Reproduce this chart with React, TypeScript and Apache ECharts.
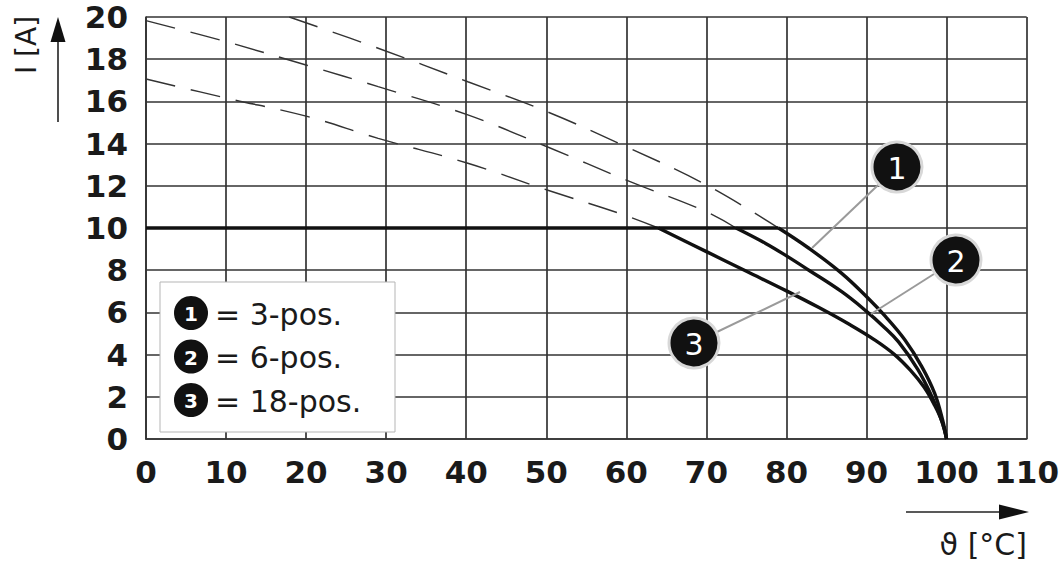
import React, { useEffect, useRef } from "react";
import * as echarts from "echarts";

// Temperature ticks and current ticks
const xTicks = [0, 10, 20, 30, 40, 50, 60, 70, 80, 90, 100, 110];
const yTicks = [0, 2, 4, 6, 8, 10, 12, 14, 16, 18, 20];

// Rated current limit (solid horizontal part)
const limitLine = [
  [0, 10],
  [79, 10],
];

// Dashed derating curves above 10 A
const curve1Dashed = [
  [17.9, 20], [29, 18.52], [40.2, 16.93], [50.1, 15.51], [60, 13.85], [70, 12.04], [79, 10],
];
const curve2Dashed = [
  [0, 19.83], [10, 18.83], [20.2, 17.7], [29, 16.7], [40.2, 15.36], [50.1, 13.85], [60, 12.27], [70, 10.77], [73.7, 10],
];
const curve3Dashed = [
  [0, 17.06], [10, 16.16], [20, 15.3], [29, 14.25], [40.2, 13.07], [50.1, 11.8], [59.7, 10.62], [64, 10],
];

// Solid derating curves below 10 A
const curve1Solid = [
  [79, 10], [82.8, 9.04], [86.9, 7.85], [90.2, 6.67], [92.3, 5.83], [94.8, 4.69], [96.9, 3.43], [98.5, 2.17], [99.5, 0.9], [100, 0],
];
const curve2Solid = [
  [73.7, 10], [77.4, 9.27], [80, 8.68], [82.8, 8.0], [86.9, 6.98], [90, 6.05], [92, 5.37], [94, 4.6], [96.4, 3.3], [98.3, 1.9], [99.5, 0.75], [100, 0],
];
const curve3Solid = [
  [64, 10], [70, 8.88], [75, 7.95], [80, 7.02], [84, 6.24], [88, 5.4], [91, 4.7], [93.5, 4.0], [95.5, 3.25], [97.2, 2.45], [98.5, 1.6], [99.4, 0.85], [100, 0],
];

const legendLabels = ["= 3-pos.", "= 6-pos.", "= 18-pos."];
const legendNumbers = ["1", "2", "3"];
const yTitle = "I [A]";
const xTitle = "ϑ [°C]";

const FONT = '"DejaVu Sans", "Liberation Sans", Arial, sans-serif';

export default function App() {
  const ref = useRef<HTMLDivElement>(null);

  useEffect(() => {
    if (!ref.current) return;
    const chart = echarts.init(ref.current, null, { renderer: "svg" });

    const gridStyle = { color: "#333", width: 1.7 };
    const dashed = (data: number[][]) => ({
      type: "line",
      data,
      symbol: "none",
      smooth: 0.4,
      lineStyle: { color: "#333", width: 1.4, type: [30, 16] },
      z: 3,
    });
    const solid = (data: number[][]) => ({
      type: "line",
      data,
      symbol: "none",
      smooth: 0.4,
      lineStyle: { color: "#111", width: 3.4 },
      z: 4,
    });

    const legendCircles: any[] = [];
    legendNumbers.forEach((n, i) => {
      const cy = 313 + i * 43.5;
      legendCircles.push({
        type: "circle",
        z: 102,
        shape: { cx: 191, cy, r: 17 },
        style: { fill: "#111" },
      });
      legendCircles.push({
        type: "text",
        z: 103,
        x: 191,
        y: cy + 1,
        style: { text: n, fill: "#fff", font: `bold 20px ${FONT}`, align: "center", verticalAlign: "middle" },
      });
      legendCircles.push({
        type: "text",
        z: 103,
        x: 215,
        y: cy + 1,
        style: { text: legendLabels[i], fill: "#1a1a1a", font: `30px ${FONT}`, align: "left", verticalAlign: "middle" },
      });
    });

    const callouts = [
      { n: "1", cx: 897, cy: 167, x2: 812, y2: 248 },
      { n: "2", cx: 956, cy: 260, x2: 871, y2: 314 },
      { n: "3", cx: 694, cy: 343, x2: 800, y2: 292 },
    ];
    const calloutEls: any[] = [];
    callouts.forEach((c) => {
      calloutEls.push({
        type: "line",
        z: 100,
        shape: { x1: c.cx, y1: c.cy, x2: c.x2, y2: c.y2 },
        style: { stroke: "#9a9a9a", lineWidth: 2 },
      });
      calloutEls.push({
        type: "circle",
        z: 101,
        shape: { cx: c.cx, cy: c.cy, r: 25 },
        style: { fill: "#111", stroke: "#d8d8d8", lineWidth: 3 },
      });
      calloutEls.push({
        type: "text",
        z: 102,
        x: c.cx,
        y: c.cy + 1,
        style: { text: c.n, fill: "#fff", font: `30px ${FONT}`, align: "center", verticalAlign: "middle" },
      });
    });

    chart.setOption({
      animation: false,
      backgroundColor: "#fff",
      grid: { left: 146, top: 17, right: 29, bottom: 125, containLabel: false },
      xAxis: {
        type: "value",
        min: xTicks[0],
        max: xTicks[xTicks.length - 1],
        interval: 10,
        axisLine: { show: true, lineStyle: gridStyle },
        axisTick: { show: false },
        splitLine: { show: true, lineStyle: gridStyle },
        axisLabel: {
          margin: 17,
          color: "#1a1a1a",
          fontFamily: FONT,
          fontWeight: "bold",
          fontSize: 31,
        },
      },
      yAxis: {
        type: "value",
        min: yTicks[0],
        max: yTicks[yTicks.length - 1],
        interval: 2,
        axisLine: { show: true, lineStyle: gridStyle },
        axisTick: { show: false },
        splitLine: { show: true, lineStyle: gridStyle },
        axisLabel: {
          margin: 18,
          color: "#1a1a1a",
          fontFamily: FONT,
          fontWeight: "bold",
          fontSize: 31,
        },
      },
      series: [
        dashed(curve1Dashed),
        dashed(curve2Dashed),
        dashed(curve3Dashed),
        {
          type: "line",
          data: limitLine,
          symbol: "none",
          lineStyle: { color: "#111", width: 3.4 },
          z: 4,
        },
        solid(curve1Solid),
        solid(curve2Solid),
        solid(curve3Solid),
      ],
      graphic: [
        // legend box
        {
          type: "rect",
          z: 100,
          shape: { x: 160, y: 282, width: 235, height: 150 },
          style: { fill: "#fff", stroke: "#b5b5b5", lineWidth: 1 },
        },
        ...legendCircles,
        ...calloutEls,
        // y-axis title and arrow
        {
          type: "text",
          z: 100,
          x: 26,
          y: 45,
          rotation: Math.PI / 2,
          style: { text: yTitle, fill: "#1a1a1a", font: `28px ${FONT}`, align: "center", verticalAlign: "middle" },
        },
        {
          type: "line",
          z: 100,
          shape: { x1: 58, y1: 122, x2: 58, y2: 38 },
          style: { stroke: "#222", lineWidth: 1.6 },
        },
        {
          type: "polygon",
          z: 100,
          shape: { points: [[58, 17], [50.5, 42], [65.5, 42]] },
          style: { fill: "#111" },
        },
        // x-axis title and arrow
        {
          type: "line",
          z: 100,
          shape: { x1: 906, y1: 512, x2: 1004, y2: 512 },
          style: { stroke: "#222", lineWidth: 1.6 },
        },
        {
          type: "polygon",
          z: 100,
          shape: { points: [[1029, 512], [999, 504.5], [999, 519.5]] },
          style: { fill: "#111" },
        },
        {
          type: "text",
          z: 100,
          x: 1027,
          y: 544,
          style: { text: xTitle, fill: "#1a1a1a", font: `30px ${FONT}`, align: "right", verticalAlign: "middle" },
        },
      ],
    });

    return () => chart.dispose();
  }, []);

  return (
    <div
      ref={ref}
      style={{ position: "absolute", left: 0, top: 0, width: 1062, height: 564, background: "#fff" }}
    />
  );
}
